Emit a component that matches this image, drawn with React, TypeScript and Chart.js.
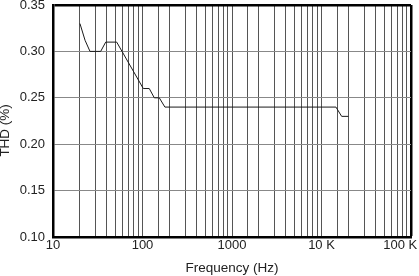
import React, { useEffect, useRef } from 'react';
import { Chart, registerables } from 'chart.js';

Chart.register(...registerables);

// Data
const frequencyHz = [20, 22.8, 25.9, 34.1, 38.8, 51.5, 102, 119, 135.5, 154, 178, 14500, 16800, 20000];
const thdPercent = [0.33, 0.312, 0.3, 0.3, 0.31, 0.31, 0.26, 0.26, 0.25, 0.25, 0.24, 0.24, 0.23, 0.23];

// Axis ticks
const xTickValues = [10, 100, 1000, 10000, 100000];
const NB = '\u00A0';
const xTickLabels = ['10', '100', '1000', '10 K', '100 K' + NB.repeat(6)];
const yMin = 0.1;
const yMax = 0.35;
const yStep = 0.05;
const xMin = 10;
const xMax = 100000;

const FONT = '"Liberation Sans", Arial, Helvetica, sans-serif';

export default function App() {
  const canvasRef = useRef<HTMLCanvasElement | null>(null);

  useEffect(() => {
    const canvas = canvasRef.current;
    if (!canvas) return;
    const points = frequencyHz.map((f, i) => ({ x: f, y: thdPercent[i] }));

    const chart = new Chart(canvas, {
      type: 'line',
      data: {
        datasets: [
          {
            data: points,
            borderColor: '#1a1a1a',
            borderWidth: 1,
            pointRadius: 0,
            tension: 0,
            fill: false,
          },
        ],
      },
      options: {
        animation: false,
        responsive: false,
        maintainAspectRatio: false,
        layout: { padding: { top: 5, right: 8, left: 0, bottom: 0 } },
        plugins: {
          legend: { display: false },
          tooltip: { enabled: false },
        },
        scales: {
          x: {
            type: 'logarithmic',
            min: xMin,
            max: xMax,
            afterFit: (scale: any) => {
              scale.height = 39;
              scale.paddingLeft = 0;
              scale.paddingRight = 0;
            },
            border: { display: true, color: '#000', width: 2.5 },
            grid: {
              drawTicks: false,
              color: (ctx: any) => {
                const v = ctx.tick ? ctx.tick.value : 0;
                if (v >= xMax * 0.9999) return '#000';
                if (v <= xMin * 1.0001) return 'rgba(0,0,0,0)';
                return '#555';
              },
              lineWidth: (ctx: any) => {
                const v = ctx.tick ? ctx.tick.value : 0;
                return v >= xMax * 0.9999 ? 2.5 : 1;
              },
            },
            ticks: {
              autoSkip: false,
              maxRotation: 0,
              minRotation: 0,
              padding: 1,
              color: '#222',
              font: { family: FONT, size: 13 },
              callback: (value: any) => {
                const v = Number(value);
                const idx = xTickValues.findIndex((t) => Math.abs(t - v) / t < 1e-6);
                return idx >= 0 ? xTickLabels[idx] : '';
              },
            },
            title: {
              display: true,
              text: 'Frequency (Hz)',
              color: '#222',
              font: { family: FONT, size: 13.5 },
              padding: { top: 0, bottom: 0 },
            },
          },
          y: {
            type: 'linear',
            min: yMin,
            max: yMax,
            afterFit: (scale: any) => {
              scale.width = 53;
              scale.paddingTop = 0;
              scale.paddingBottom = 0;
            },
            border: { display: true, color: '#000', width: 2.5 },
            grid: {
              drawTicks: false,
              color: (ctx: any) => {
                const v = ctx.tick ? ctx.tick.value : 0;
                if (Math.abs(v - yMax) < 1e-9) return '#000';
                if (Math.abs(v - yMin) < 1e-9) return 'rgba(0,0,0,0)';
                return '#888';
              },
              lineWidth: (ctx: any) => {
                const v = ctx.tick ? ctx.tick.value : 0;
                return Math.abs(v - yMax) < 1e-9 ? 2.5 : 1;
              },
            },
            ticks: {
              stepSize: yStep,
              padding: 8,
              color: '#222',
              font: { family: FONT, size: 13 },
              callback: (value: any) => Number(value).toFixed(2),
            },
            title: {
              display: true,
              text: 'THD (%)' + NB.repeat(5),
              color: '#222',
              font: { family: FONT, size: 13.5 },
              padding: { top: -3, bottom: 0 },
            },
          },
        },
      },
    });

    return () => {
      chart.destroy();
    };
  }, []);

  return (
    <div style={{ position: 'absolute', left: 0, top: 0, width: 419, height: 276, background: '#fff' }}>
      <canvas ref={canvasRef} width={419} height={276} style={{ display: 'block', width: 419, height: 276 }} />
    </div>
  );
}
